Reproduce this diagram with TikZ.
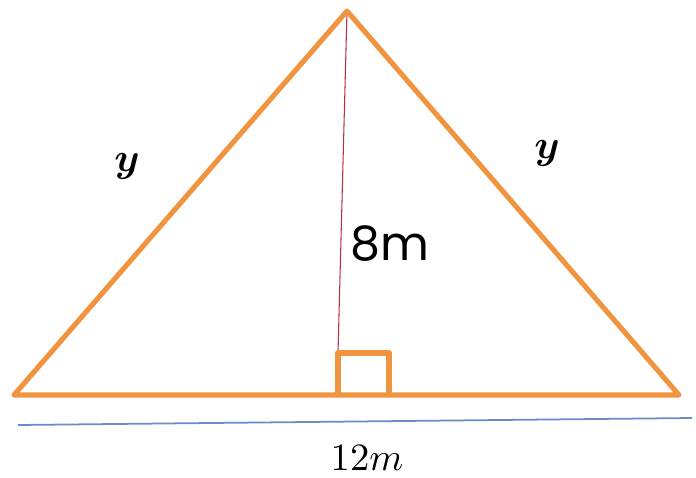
\documentclass[tikz,border=0pt]{standalone}
\usepackage{bm}
\usepackage{fontspec}
\newfontfamily\handfont{Poppins}
\usepackage{tikz}
\usetikzlibrary{positioning, calc}

\definecolor{tri}{RGB}{240,148,64}
\definecolor{alt}{RGB}{185,45,70}
\definecolor{gndblue}{RGB}{105,140,200}

\begin{document}
\begin{tikzpicture}[
  x=0.02cm, y=-0.02cm,
  side/.style={tri, line width=2.9pt, line join=round, line cap=round},
  height/.style={alt, line width=0.6pt},
  rightmark/.style={tri, line width=2.9pt, line join=round},
  ground/.style={gndblue, line width=1pt},
  lab/.style={inner sep=0pt}
]
\useasboundingbox (0,0) rectangle (696,477);
% Triangle corners
\coordinate (top) at (347,11);
\coordinate (left) at (14,395);
\coordinate (right) at (679,395);
\coordinate (foot) at (338,395);

% Altitude and right-angle mark
\draw[height] (top) -- (338,353);
\draw[rightmark] (foot) |- (389,353) -- (389,395);
\draw[side] (left) -- (top) -- (right) -- cycle;

% Line under the base
\coordinate (gl) at (18,425);
\coordinate (gr) at (692,418);
\draw[ground] (gl) -- (gr);

% Labels
\node[lab] (ya) at (127,166) {\scalebox{2.3}{$\bm{y}$}};
\node[lab] (yb) at (547,153) {\scalebox{2.3}{$\bm{y}$}};
\node[font=\handfont\fontsize{27}{31}\selectfont] (h) at (390,244) {8m};
\node[lab] (b) at (367,458) {\scalebox{2.2}{$12m$}};
\end{tikzpicture}
\end{document}
